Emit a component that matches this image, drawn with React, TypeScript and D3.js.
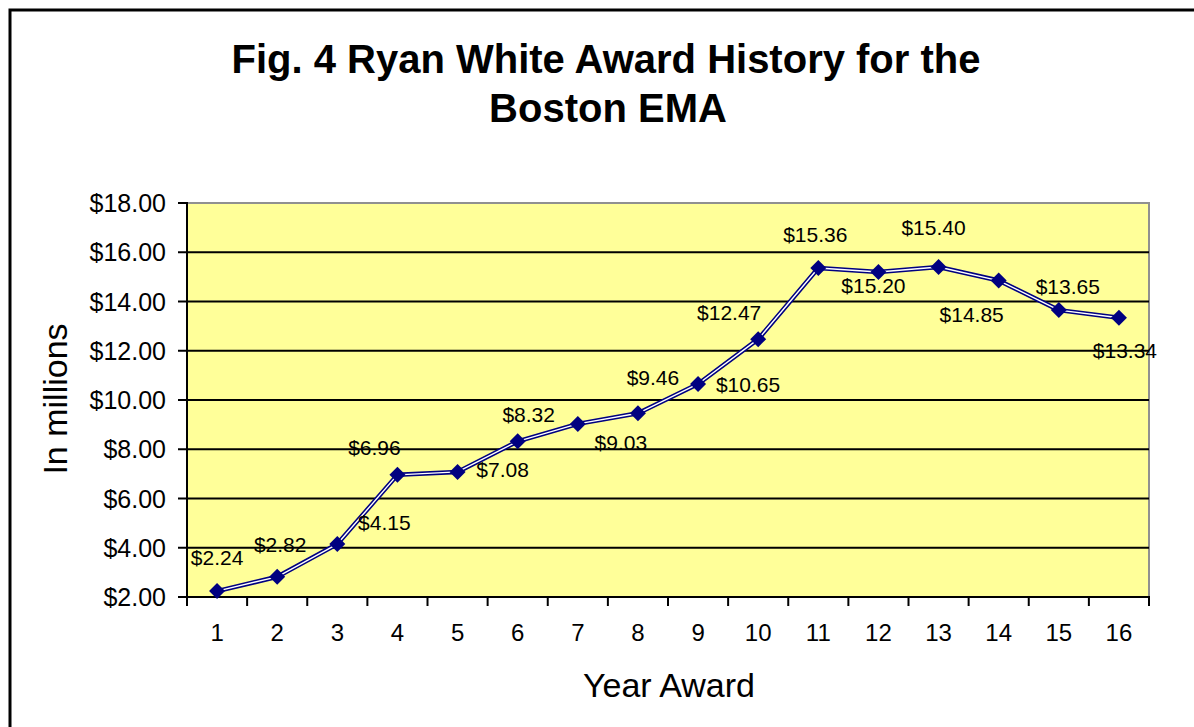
import React from "react";
import * as d3 from "d3";

const years = ["1","2","3","4","5","6","7","8","9","10","11","12","13","14","15","16"];
const awards = [2.24, 2.82, 4.15, 6.96, 7.08, 8.32, 9.03, 9.46, 10.65, 12.47, 15.36, 15.20, 15.40, 14.85, 13.65, 13.34];
const yTicks = [2, 4, 6, 8, 10, 12, 14, 16, 18];
// label placement relative to each point (dx, dy of baseline)
const labelOffsets: [number, number][] = [
  [0, -26], [3, -25], [47, -14], [-23, -20], [45, 5], [11, -19], [43, 26], [15, -28],
  [50, 8], [-29, -19], [-3, -26], [-5, 21], [-5, -32], [-27, 41], [9, -16], [6, 40],
];

const W = 1194, H = 727;
const L = 187, R = 1149, T = 203, B = 597;

export default function App() {
  const x = d3.scaleBand<string>().domain(years).range([L, R]);
  const y = d3.scaleLinear().domain([2, 18]).range([B, T]);
  const cx = (i: number) => (x(years[i]) as number) + x.bandwidth() / 2;
  const line = d3.line<number>().x((_, i) => cx(i)).y((d) => y(d));
  const path = line(awards) || "";
  const font = "Arial, 'Liberation Sans', sans-serif";
  const fmt = (v: number) => "$" + v.toFixed(2);
  const boundaries = years.map((yr) => x(yr) as number).concat([R]);
  const diamond = (px: number, py: number, r: number) =>
    `M${px},${py - r}L${px + r},${py}L${px},${py + r}L${px - r},${py}Z`;

  return (
    <svg width={W} height={H} style={{ position: "absolute", left: 0, top: 0, background: "#fff" }} fontFamily={font}>
      <rect x={10} y={10} width={W + 20} height={H + 20} fill="#fff" stroke="#000" strokeWidth={3} />
      <text x={606} y={73} textAnchor="middle" fontSize={40} fontWeight="bold">Fig. 4 Ryan White Award History for the</text>
      <text x={608} y={122} textAnchor="middle" fontSize={40} fontWeight="bold">Boston EMA</text>
      <rect x={L} y={T} width={R - L} height={B - T} fill="#FFFF99" stroke="#909090" strokeWidth={2} />
      {yTicks.map((t) => (
        <g key={t}>
          {t !== 2 && t !== 18 && <line x1={L} x2={R} y1={y(t)} y2={y(t)} stroke="#000" strokeWidth={2} />}
          <line x1={L - 9} x2={L} y1={y(t)} y2={y(t)} stroke="#000" strokeWidth={2} />
          <text x={166} y={y(t)} dy="0.36em" textAnchor="end" fontSize={25}>{fmt(t)}</text>
        </g>
      ))}
      <line x1={L} x2={R + 1} y1={B} y2={B} stroke="#000" strokeWidth={2} />
      <line x1={L} x2={L} y1={T - 1} y2={B + 1} stroke="#000" strokeWidth={2} />
      {boundaries.map((b, i) => (
        <line key={i} x1={b} x2={b} y1={B} y2={B + 9} stroke="#000" strokeWidth={2} />
      ))}
      {years.map((yr, i) => (
        <text key={yr} x={cx(i)} y={641} textAnchor="middle" fontSize={24}>{yr}</text>
      ))}
      <text x={669} y={697} textAnchor="middle" fontSize={34}>Year Award</text>
      <text transform={`translate(67,399) rotate(-90)`} textAnchor="middle" fontSize={34}>In millions</text>
      <path d={path} fill="none" stroke="#000080" strokeWidth={4.5} strokeLinejoin="round" />
      <path d={path} fill="none" stroke="#ffffff" strokeWidth={1.4} strokeLinejoin="round" />
      {awards.map((v, i) => (
        <path key={i} d={diamond(cx(i), y(v), 8)} fill="#000080" />
      ))}
      {awards.map((v, i) => (
        <text key={"l" + i} x={cx(i) + labelOffsets[i][0]} y={y(v) + labelOffsets[i][1]} textAnchor="middle" fontSize={21}>{fmt(v)}</text>
      ))}
    </svg>
  );
}
